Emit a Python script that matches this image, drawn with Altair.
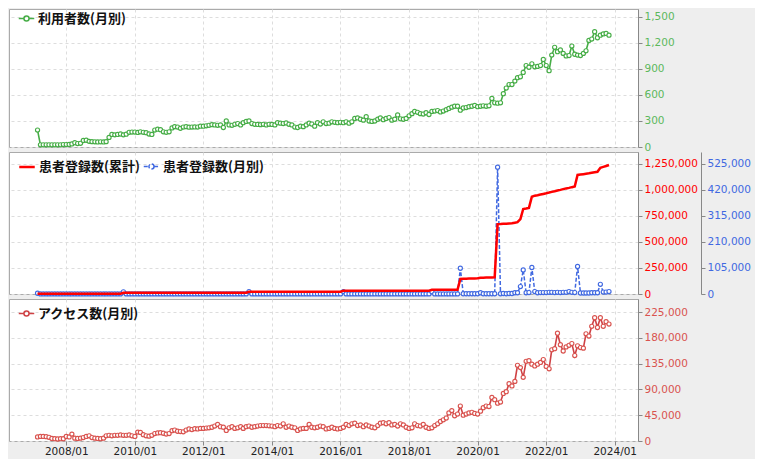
import altair as alt
import pandas as pd

months = pd.date_range("2007-03-01", "2023-11-01", freq="MS")

S1 = "利用者数(月別)"
S2A = "患者登録数(累計)"
S2B = "患者登録数(月別)"
S3 = "アクセス数(月別)"

users = [
    195, 25, 25, 25, 25, 25, 25, 25, 25, 28,                          # 2007 Mar-Dec
    28, 30, 35, 50, 40, 42, 75, 78, 65, 62, 60, 58,                   # 2008
    60, 58, 62, 110, 145, 140, 145, 150, 140, 148, 170, 172,          # 2009
    172, 168, 175, 170, 165, 150, 145, 195, 205, 200, 175, 170,       # 2010
    175, 220, 235, 230, 215, 230, 235, 228, 230, 232, 230, 240,       # 2011
    240, 245, 250, 258, 255, 250, 255, 225, 300, 255, 250, 262,       # 2012
    270, 255, 280, 295, 300, 270, 262, 260, 258, 262, 255, 262,       # 2013
    260, 255, 280, 275, 270, 278, 262, 255, 230, 225, 240, 235,       # 2014
    255, 275, 265, 240, 280, 265, 290, 270, 275, 290, 285, 280,       # 2015
    285, 280, 290, 275, 290, 330, 335, 320, 310, 350, 300, 295,       # 2016
    300, 320, 335, 315, 330, 340, 310, 320, 370, 325, 320, 330,       # 2017
    360, 385, 410, 400, 385, 380, 395, 375, 410, 415, 420, 405,       # 2018
    415, 430, 445, 460, 470, 470, 425, 450, 455, 465, 470, 480,       # 2019
    465, 470, 475, 470, 475, 560, 510, 505, 510, 615, 680, 720,       # 2020
    720, 760, 800, 810, 860, 940, 920, 960, 925, 930, 940, 1010,      # 2021
    940, 880, 1060, 1150, 1100, 1120, 1080, 1050, 1055, 1165, 1070, 1060,  # 2022
    1055, 1080, 1110, 1230, 1245, 1330, 1260, 1290, 1305, 1310, 1290,      # 2023 Jan-Nov
]

reg_total = [
    3000, 3000, 3000, 3000, 3000, 3000, 3000, 3000, 3000, 3000,
    3000, 3000, 3000, 3000, 3000, 3000, 3000, 3000, 3000, 3000, 3000, 3000,
    3000, 3000, 3000, 3000, 3000, 3000, 3000, 3000, 12000, 12000, 12000, 12000,
    12000, 12000, 12000, 12000, 12000, 12000, 12000, 12000, 12000, 12000, 12000, 12000,
    12000, 12000, 12000, 12000, 12000, 12000, 12000, 12000, 12000, 12000, 12000, 12000,
    12000, 12000, 12000, 12000, 12000, 12000, 12000, 12000, 12000, 12000, 12000, 12000,
    12000, 12000, 12000, 12000, 22000, 22000, 22000, 22000, 22000, 22000, 22000, 22000,
    22000, 22000, 22000, 22000, 22000, 22000, 22000, 22000, 22000, 22000, 22000, 22000,
    22000, 22000, 22000, 22000, 22000, 22000, 22000, 22000, 22000, 22000, 22000, 22000,
    22000, 32000, 32000, 32000, 32000, 32000, 32000, 32000, 32000, 32000, 32000, 32000,
    32000, 32000, 32000, 32000, 32000, 32000, 32000, 32000, 32000, 32000, 32000, 32000,
    32000, 32000, 32000, 32000, 32000, 32000, 32000, 32000, 41000, 41000, 41000, 41000,
    41000, 41000, 41000, 41000, 41000, 41000, 145000, 146000, 147000, 148000, 149000, 150000,
    151000, 156000, 157000, 158000, 158000, 159000, 160000, 672000, 673000, 675000, 676000, 678000,
    680000, 685000, 690000, 720000, 817000, 822000, 828000, 935000, 945000, 950000, 956000, 962000,
    968000, 975000, 982000, 988000, 995000, 1001000, 1008000, 1015000, 1020000, 1027000, 1033000, 1144000,
    1148000, 1152000, 1156000, 1160000, 1165000, 1170000, 1175000, 1214000, 1222000, 1230000, 1240000,
]

reg_month = [
    3000, 500, 500, 500, 500, 500, 500, 500, 500, 500,
    500, 500, 500, 500, 500, 500, 500, 500, 500, 500, 500, 500,
    500, 500, 500, 500, 500, 500, 500, 500, 9000, 500, 500, 500,
    500, 500, 500, 500, 500, 500, 500, 500, 500, 500, 500, 500,
    500, 500, 500, 500, 500, 500, 500, 500, 500, 500, 500, 500,
    500, 500, 500, 500, 500, 500, 500, 500, 500, 500, 500, 500,
    500, 500, 500, 500, 10000, 500, 500, 500, 500, 500, 500, 500,
    500, 500, 500, 500, 500, 500, 500, 500, 500, 500, 500, 500,
    500, 500, 500, 500, 500, 500, 500, 500, 500, 500, 500, 500,
    500, 10000, 500, 500, 500, 500, 500, 500, 500, 500, 500, 500,
    500, 500, 500, 500, 500, 500, 500, 500, 500, 500, 500, 500,
    500, 500, 500, 500, 500, 500, 500, 500, 9000, 500, 500, 500,
    500, 500, 500, 500, 500, 500, 104000, 1000, 1000, 1000, 1000, 1000,
    1000, 5000, 1000, 1000, 1000, 1000, 1000, 512000, 1000, 2000, 1000, 2000,
    2000, 5000, 5000, 30000, 97000, 5000, 6000, 107000, 10000, 5000, 6000, 6000,
    6000, 7000, 7000, 6000, 7000, 6000, 7000, 7000, 10000, 7000, 6000, 111000,
    4000, 4000, 4000, 4000, 5000, 5000, 5000, 39000, 8000, 8000, 10000,
]

access = [
    7000, 8000, 8000, 7500, 6500, 4500, 4000, 3500, 4000, 4000,
    8000, 7000, 12000, 5000, 4500, 5000, 6000, 8000, 9000, 6000, 5000, 4500,
    4000, 5000, 9000, 10000, 9000, 10000, 10000, 10500, 10000, 10000, 10500, 9000,
    8000, 15500, 15000, 11000, 9000, 8500, 10000, 13000, 14000, 14500, 13500, 12000,
    13000, 18000, 19000, 17000, 16500, 16000, 19000, 21000, 20000, 21500, 21000, 22000,
    22000, 22500, 23000, 24000, 26000, 29000, 25000, 24000, 18500, 23000, 25000, 22000,
    23000, 25000, 22000, 25000, 26000, 24000, 25000, 26000, 27000, 27000, 27000, 26500,
    26000, 25000, 27000, 26000, 30000, 24000, 26000, 24000, 23000, 18500, 21000, 22000,
    22000, 29000, 24000, 23000, 24000, 26000, 25000, 21000, 22000, 24000, 22000, 21000,
    22000, 24000, 29000, 27000, 30000, 31000, 27000, 28000, 25000, 28000, 26000, 24000,
    23000, 27000, 31000, 32000, 30000, 32000, 28000, 29000, 26000, 30000, 28000, 24000,
    22000, 23000, 30000, 27000, 26000, 29000, 24000, 22000, 23000, 27000, 30000, 34000,
    37000, 40000, 49000, 53000, 44000, 47000, 61000, 45000, 47000, 49000, 50000, 48000,
    47000, 52000, 58000, 61000, 60000, 76000, 72000, 66000, 68000, 83000, 86000, 100000,
    96000, 104000, 132000, 128000, 111000, 139000, 140000, 134000, 131000, 134000, 137000, 142000,
    130000, 126000, 159000, 161000, 188000, 168000, 157000, 164000, 167000, 170000, 149000, 166000,
    163000, 162000, 187000, 183000, 200000, 215000, 198000, 215000, 200000, 208000, 204000,
]

assert len(users) == len(months) == len(reg_total) == len(reg_month) == len(access), (
    len(users), len(months), len(reg_total), len(reg_month), len(access))

users_ticks = [0, 300, 600, 900, 1200, 1500]
total_ticks = [0, 250000, 500000, 750000, 1000000, 1250000]
month_ticks = [0, 105000, 210000, 315000, 420000, 525000]
access_ticks = [0, 45000, 90000, 135000, 180000, 225000]

GREEN = "#46ad46"
GREEN_LBL = "#5cb85c"
RED = "#ff0000"
BLUE = "#4169e1"
ACC = "#cf4245"
ACC_LBL = "#d9534f"
GRID = "#dddddd"
FONT_JP = "Noto Sans CJK JP"
W = 629
PT_SIZE = 17
PT_STROKE = 1.15

PATH = "M-1,0H-0.33M0.33,0H1M0.33,0A0.33,0.33,0,1,1,-0.33,0A0.33,0.33,0,1,1,0.33,0"
LINE_PATH = "M-1,0H1"

xdomain = [alt.DateTime(year=2006, month=5, date=1), alt.DateTime(year=2024, month=9, date=5)]


def x_enc(labels):
    return alt.X(
        "date:T", title=None, scale=alt.Scale(domain=xdomain),
        axis=alt.Axis(
            tickCount=alt.TimeIntervalStep(interval="year", step=2), format="%Y/%m",
            grid=True, gridColor=GRID, gridDash=[3, 3], domain=False,
            labels=labels, ticks=labels, tickColor="#888888", tickSize=4,
            labelColor="#222222", labelPadding=1, labelFontSize=10.5,
            labelFont="DejaVu Sans",
        ),
    )


def y_axis(values, color, grid=True, offset=0):
    return alt.Axis(
        orient="right", values=values, format=",d", title=None, grid=grid,
        gridColor=GRID, gridDash=[3, 3], domainColor="#888888", tickColor="#888888",
        tickSize=4, labelColor=color, labelPadding=2, labelFontSize=10.5,
        labelFont="DejaVu Sans", offset=offset,
    )


def legend(x, y, symbol=PATH, **kw):
    return alt.Legend(
        title=None, orient="none", legendX=x, legendY=y, symbolType=symbol,
        symbolSize=240, labelFont=FONT_JP, labelFontSize=13,
        labelFontWeight="bold", labelColor="#111111", labelOffset=3, padding=0, **kw
    )


# Panel 1
d1 = pd.DataFrame({"date": months, "value": users, "series": S1})
y1 = alt.Y("value:Q", scale=alt.Scale(domain=[0, 1592], nice=False), axis=y_axis(users_ticks, GREEN_LBL))
line1 = alt.Chart(d1).mark_line(strokeWidth=1.6).encode(
    x=x_enc(False), y=y1,
    color=alt.Color("series:N", scale=alt.Scale(domain=[S1], range=[GREEN]),
                    legend=legend(9, 1, symbolStrokeWidth=1.5)),
)
pts1 = alt.Chart(d1).mark_point(filled=True, fill="white", stroke=GREEN, strokeWidth=PT_STROKE,
                                size=PT_SIZE, opacity=1).encode(x=x_enc(False), y=y1)
p1 = alt.layer(line1, pts1).properties(width=W, height=138)

# Panel 2
d2a = pd.DataFrame({"date": months, "value": reg_total, "series": S2A})
d2b = pd.DataFrame({"date": months, "value": reg_month, "series": S2B})
yb = alt.Y("value:Q", scale=alt.Scale(domain=[0, 573300], nice=False),
           axis=y_axis(month_ticks, BLUE, grid=False, offset=63))
yr = alt.Y("value:Q", scale=alt.Scale(domain=[0, 1365000], nice=False), axis=y_axis(total_ticks, RED))
blue_line = alt.Chart(d2b).mark_line(strokeWidth=1.5, stroke=BLUE).encode(
    x=x_enc(False), y=yb,
    strokeDash=alt.StrokeDash(
        "series:N", scale=alt.Scale(domain=[S2B], range=[[4, 2]]),
        legend=legend(134, 6, symbolStrokeColor=BLUE, symbolStrokeWidth=1.5),
    ),
)
blue_pts = alt.Chart(d2b).mark_point(filled=True, fill="white", stroke=BLUE, strokeWidth=PT_STROKE,
                                     size=PT_SIZE, opacity=1).encode(x=x_enc(False), y=yb)
red_line = alt.Chart(d2a).mark_line(strokeWidth=2.5).encode(
    x=x_enc(False), y=yr,
    color=alt.Color("series:N", scale=alt.Scale(domain=[S2A], range=[RED]),
                    legend=legend(9, 6, symbol=LINE_PATH, symbolStrokeWidth=2.5)),
)
p2 = alt.layer(alt.layer(blue_line, blue_pts), red_line).resolve_scale(y="independent").properties(width=W, height=142)

# Panel 3
d3 = pd.DataFrame({"date": months, "value": access, "series": S3})
y3 = alt.Y("value:Q", scale=alt.Scale(domain=[0, 247700], nice=False), axis=y_axis(access_ticks, ACC_LBL))
line3 = alt.Chart(d3).mark_line(strokeWidth=1.6).encode(
    x=x_enc(True), y=y3,
    color=alt.Color("series:N", scale=alt.Scale(domain=[S3], range=[ACC]),
                    legend=legend(9, 6, symbolStrokeWidth=1.5)),
)
pts3 = alt.Chart(d3).mark_point(filled=True, fill="white", stroke=ACC_LBL, strokeWidth=PT_STROKE,
                                size=PT_SIZE, opacity=1).encode(x=x_enc(True), y=y3)
p3 = alt.layer(line3, pts3).properties(width=W, height=142)

chart = (
    alt.vconcat(p1, p2, p3, spacing=5, bounds="flush")
    .resolve_scale(color="independent", strokeDash="independent")
    .properties(background="#eeeeee", padding={"left": 0, "top": 0, "right": 4, "bottom": 2})
    .configure_view(fill="white", stroke="#aaaaaa", strokeWidth=1)
)

chart.save("out.html", embed_options={"renderer": "svg", "actions": False})
